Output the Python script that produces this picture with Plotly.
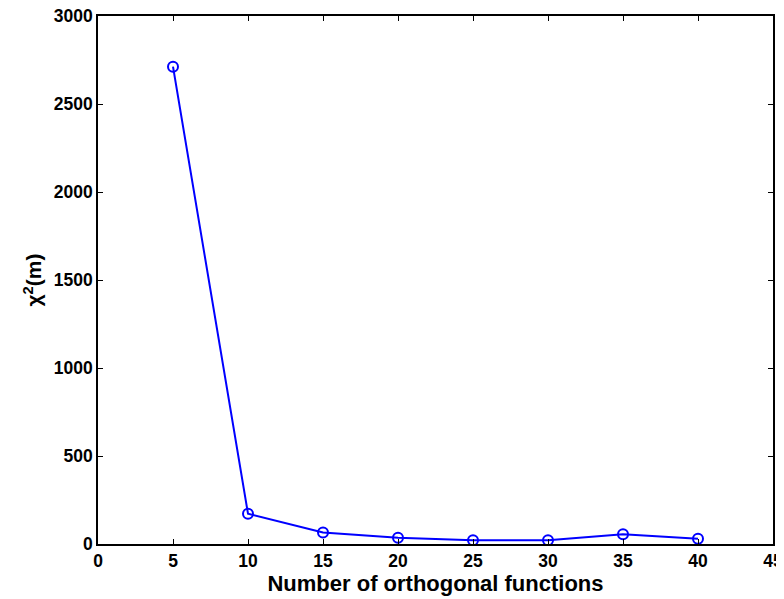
import plotly.graph_objects as go

n_functions = [5, 10, 15, 20, 25, 30, 35, 40]
chi2_values = [2712, 172, 65, 35, 22, 22, 55, 30]

x_ticks = [0, 5, 10, 15, 20, 25, 30, 35, 40, 45]
y_ticks = [0, 500, 1000, 1500, 2000, 2500, 3000]

fig = go.Figure()
fig.add_trace(go.Scatter(
    x=n_functions, y=chi2_values, mode="lines+markers",
    line=dict(color="#0000ff", width=2),
    marker=dict(symbol="circle-open", size=10, color="#0000ff", line=dict(width=2, color="#0000ff")),
    showlegend=False,
))

font_family = "Liberation Sans, Arial, sans-serif"
axis_common = dict(
    showgrid=False, zeroline=False, showline=True, linecolor="black", linewidth=1.5,
    mirror="ticks", ticks="inside", ticklen=5, tickwidth=1, tickcolor="black",
    automargin=False, ticklabeloverflow="allow",
    tickfont=dict(family=font_family, size=17.5, color="black", weight="bold"),
)

# page body has an 8px margin, so figure is shrunk to fit the 784x599 window
fig.update_layout(
    width=776, height=591,
    margin=dict(l=90, r=11, t=8, b=55),
    plot_bgcolor="white", paper_bgcolor="white",
    xaxis=dict(range=[0, 45], tickvals=x_ticks, ticktext=[str(v) for v in x_ticks],
               title=dict(text="<b>Number of orthogonal functions</b>",
                          font=dict(family=font_family, size=22, color="black"), standoff=0),
               **axis_common),
    yaxis=dict(range=[0, 3000], tickvals=y_ticks, ticktext=[str(v) for v in y_ticks],
               title=dict(text="<b>χ<sup>2</sup>(m)</b>",
                          font=dict(family=font_family, size=21, color="black"), standoff=6),
               **axis_common),
)

fig.write_html("out.html")
